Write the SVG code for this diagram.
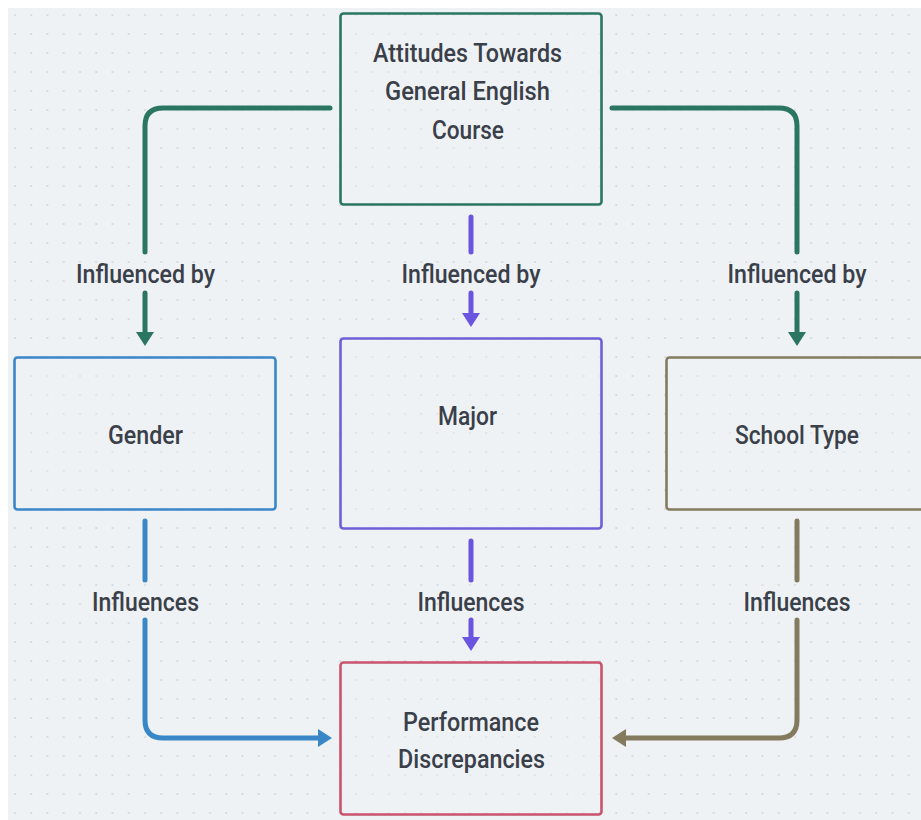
<svg xmlns="http://www.w3.org/2000/svg" width="921" height="820" viewBox="0 0 921 820">
<style>
.bg{fill:#eff2f5}
.node rect{fill:#f1f4f6;fill-opacity:0.35;stroke-width:2.6}
.lbl{font-family:Roboto,"Liberation Sans",Arial,sans-serif;font-weight:500;font-size:25px;fill:#3a4049;text-anchor:middle}
.edge{fill:none;stroke-width:5;stroke-linecap:round;stroke-linejoin:round}
.teal{stroke:#2b7563}
.purple{stroke:#6a55e0}
.blue{stroke:#3987c6}
.brown{stroke:#847a5e}
</style>
<defs>
<pattern id="dots" x="8" y="8" width="16.25" height="19" patternUnits="userSpaceOnUse">
<circle cx="7" cy="7" r="1.1" fill="#d3d8de"/>
</pattern>
<marker id="aTeal" viewBox="0 0 14 18" refX="0" refY="9" markerWidth="14" markerHeight="18" markerUnits="userSpaceOnUse" orient="auto"><path d="M0,0 L14,9 L0,18 z" fill="#2b7563"/></marker>
<marker id="aPurple" viewBox="0 0 14 18" refX="0" refY="9" markerWidth="14" markerHeight="18" markerUnits="userSpaceOnUse" orient="auto"><path d="M0,0 L14,9 L0,18 z" fill="#6a55e0"/></marker>
<marker id="aBlue" viewBox="0 0 14 18" refX="0" refY="9" markerWidth="14" markerHeight="18" markerUnits="userSpaceOnUse" orient="auto"><path d="M0,0 L14,9 L0,18 z" fill="#3987c6"/></marker>
<marker id="aBrown" viewBox="0 0 14 18" refX="0" refY="9" markerWidth="14" markerHeight="18" markerUnits="userSpaceOnUse" orient="auto"><path d="M0,0 L14,9 L0,18 z" fill="#847a5e"/></marker>
</defs>
<rect x="0" y="0" width="921" height="820" fill="#ffffff"/>
<rect class="bg" x="8" y="8" width="913" height="812"/>
<rect x="8" y="8" width="913" height="812" fill="url(#dots)"/>

<g id="connectors">
<path class="edge teal" d="M330,108 H163 Q145,108 145,126 V252"/>
<path class="edge teal" d="M145,293 V332" marker-end="url(#aTeal)"/>
<path class="edge purple" d="M471,217 V252"/>
<path class="edge purple" d="M471,293 V313" marker-end="url(#aPurple)"/>
<path class="edge teal" d="M612,108 H779 Q797,108 797,126 V252"/>
<path class="edge teal" d="M797,293 V332" marker-end="url(#aTeal)"/>
<path class="edge blue" d="M145,521 V580"/>
<path class="edge blue" d="M145,620 V720 Q145,738 163,738 H318" marker-end="url(#aBlue)"/>
<path class="edge purple" d="M471,541 V580"/>
<path class="edge purple" d="M471,620 V637" marker-end="url(#aPurple)"/>
<path class="edge brown" d="M797,521 V580"/>
<path class="edge brown" d="M797,620 V720 Q797,738 779,738 H626" marker-end="url(#aBrown)"/>
<text class="lbl" x="145.5" y="283" textLength="139" lengthAdjust="spacingAndGlyphs">Influenced by</text>
<text class="lbl" x="471" y="283" textLength="139" lengthAdjust="spacingAndGlyphs">Influenced by</text>
<text class="lbl" x="797" y="283" textLength="139" lengthAdjust="spacingAndGlyphs">Influenced by</text>
<text class="lbl" x="145.5" y="611" textLength="107" lengthAdjust="spacingAndGlyphs">Influences</text>
<text class="lbl" x="471" y="611" textLength="107" lengthAdjust="spacingAndGlyphs">Influences</text>
<text class="lbl" x="797" y="611" textLength="107" lengthAdjust="spacingAndGlyphs">Influences</text>
</g>

<g id="attitudes" class="node">
<rect x="340.5" y="13.5" width="261" height="191" rx="3" stroke="#2b7563"/>
<text class="lbl" x="467.5" y="62" textLength="189" lengthAdjust="spacingAndGlyphs">Attitudes Towards</text>
<text class="lbl" x="467.5" y="100" textLength="165" lengthAdjust="spacingAndGlyphs">General English</text>
<text class="lbl" x="468" y="139" textLength="72" lengthAdjust="spacingAndGlyphs">Course</text>
</g>

<g id="gender" class="node">
<rect x="14.5" y="357.5" width="261" height="152" rx="3" stroke="#3987c6"/>
<text class="lbl" x="145.5" y="444" textLength="75" lengthAdjust="spacingAndGlyphs">Gender</text>
</g>

<g id="major" class="node">
<rect x="340.5" y="338.5" width="261" height="190" rx="3" stroke="#6f5fd6"/>
<text class="lbl" x="467.5" y="425" textLength="59" lengthAdjust="spacingAndGlyphs">Major</text>
</g>

<g id="school-type" class="node">
<rect x="666.5" y="357.5" width="261" height="152" rx="3" stroke="#847a5e"/>
<text class="lbl" x="797" y="444" textLength="124" lengthAdjust="spacingAndGlyphs">School Type</text>
</g>

<g id="performance" class="node">
<rect x="340.5" y="662.5" width="261" height="152" rx="3" stroke="#c9536c"/>
<text class="lbl" x="471" y="731" textLength="136" lengthAdjust="spacingAndGlyphs">Performance</text>
<text class="lbl" x="471.5" y="768" textLength="147" lengthAdjust="spacingAndGlyphs">Discrepancies</text>
</g>
</svg>
